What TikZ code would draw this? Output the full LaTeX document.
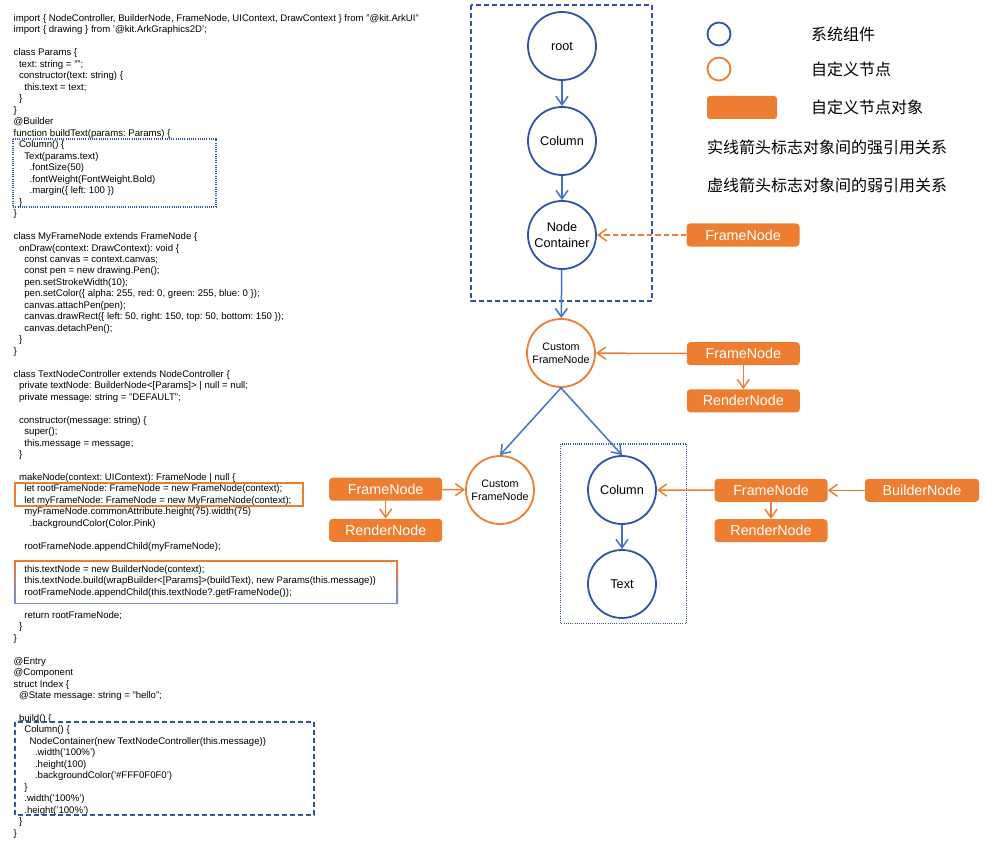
\documentclass[tikz,border=0pt]{standalone}
\usepackage{fontspec}
\setmainfont{Liberation Sans}
\newfontfamily\cjk{Noto Sans CJK SC}
\usetikzlibrary{arrows.meta}
\definecolor{nblue}{HTML}{2F55A2}
\definecolor{ablue}{HTML}{4472C4}
\definecolor{nor}{HTML}{ED7D31}
\definecolor{lblue}{HTML}{6A8FD6}
\tikzset{
  codetext/.style={anchor=base west, inner sep=0pt, font=\frenchspacing\fontsize{9.6}{11.5}\selectfont},
  sysnode/.style={circle, draw=nblue, line width=1.8pt, minimum size=68pt, inner sep=0pt, font=\fontsize{12.7}{15.4}\selectfont, align=center},
  cusnode/.style={circle, draw=nor, line width=1.8pt, minimum size=68pt, inner sep=0pt, font=\fontsize{10.8}{13.4}\selectfont, align=center},
  objbox/.style={rectangle, rounded corners=3.5pt, fill=nor, text=white, minimum width=113pt, minimum height=23pt, inner sep=0pt, font=\fontsize{14.3}{16}\selectfont},
  barrow/.style={draw=ablue, line width=1.5pt, -{Straight Barb[length=8.5pt,width=12pt]}},
  oarrow/.style={draw=nor, line width=1.5pt, -{Straight Barb[length=8.5pt,width=12pt]}},
  weakarrow/.style={oarrow, dash pattern=on 5.5pt off 3pt},
  legendtext/.style={anchor=west, inner sep=0pt, font=\cjk\fontsize{16}{18}\selectfont},
  dashbox/.style={draw=nblue, line width=1.6pt, dash pattern=on 5pt off 3pt},
  dotbox/.style={draw=nblue, line width=1.2pt, dash pattern=on 1pt off 1.2pt}
}
\newcommand\codeln[3]{\node[codetext] (c#1) at ({13.5+2.67*#2},{21.5+(#1-1)*11.475}) {#3};}
\begin{document}
\begin{tikzpicture}[x=1pt,y=-1pt]
\useasboundingbox (0,0) rectangle (1000,842);
\fill[white] (0,0) rectangle (1000,842);

% ---------------- code ----------------
\codeln{1}{0}{import \{ NodeController, BuilderNode, FrameNode, UIContext, DrawContext \} from "@kit.ArkUI"}
\codeln{2}{0}{import \{ drawing \} from '@kit.ArkGraphics2D';}
\codeln{4}{0}{class Params \{}
\codeln{5}{2}{text: string = "";}
\codeln{6}{2}{constructor(text: string) \{}
\codeln{7}{4}{this.text = text;}
\codeln{8}{2}{\}}
\codeln{9}{0}{\}}
\codeln{10}{0}{@Builder}
\codeln{11}{0}{function buildText(params: Params) \{}
\codeln{12}{2}{Column() \{}
\codeln{13}{4}{Text(params.text)}
\codeln{14}{6}{.fontSize(50)}
\codeln{15}{6}{.fontWeight(FontWeight.Bold)}
\codeln{16}{6}{.margin(\{ left: 100 \})}
\codeln{17}{2}{\}}
\codeln{18}{0}{\}}
\codeln{20}{0}{class MyFrameNode extends FrameNode \{}
\codeln{21}{2}{onDraw(context: DrawContext): void \{}
\codeln{22}{4}{const canvas = context.canvas;}
\codeln{23}{4}{const pen = new drawing.Pen();}
\codeln{24}{4}{pen.setStrokeWidth(10);}
\codeln{25}{4}{pen.setColor(\{ alpha: 255, red: 0, green: 255, blue: 0 \});}
\codeln{26}{4}{canvas.attachPen(pen);}
\codeln{27}{4}{canvas.drawRect(\{ left: 50, right: 150, top: 50, bottom: 150 \});}
\codeln{28}{4}{canvas.detachPen();}
\codeln{29}{2}{\}}
\codeln{30}{0}{\}}
\codeln{32}{0}{class TextNodeController extends NodeController \{}
\codeln{33}{2}{private textNode: BuilderNode<[Params]> | null = null;}
\codeln{34}{2}{private message: string = "DEFAULT";}
\codeln{36}{2}{constructor(message: string) \{}
\codeln{37}{4}{super();}
\codeln{38}{4}{this.message = message;}
\codeln{39}{2}{\}}
\codeln{41}{2}{makeNode(context: UIContext): FrameNode | null \{}
\codeln{42}{4}{let rootFrameNode: FrameNode = new FrameNode(context);}
\codeln{43}{4}{let myFrameNode: FrameNode = new MyFrameNode(context);}
\codeln{44}{4}{myFrameNode.commonAttribute.height(75).width(75)}
\codeln{45}{6}{.backgroundColor(Color.Pink)}
\codeln{47}{4}{rootFrameNode.appendChild(myFrameNode);}
\codeln{49}{4}{this.textNode = new BuilderNode(context);}
\codeln{50}{4}{this.textNode.build(wrapBuilder<[Params]>(buildText), new Params(this.message))}
\codeln{51}{4}{rootFrameNode.appendChild(this.textNode?.getFrameNode());}
\codeln{53}{4}{return rootFrameNode;}
\codeln{54}{2}{\}}
\codeln{55}{0}{\}}
\codeln{57}{0}{@Entry}
\codeln{58}{0}{@Component}
\codeln{59}{0}{struct Index \{}
\codeln{60}{2}{@State message: string = "hello";}
\codeln{62}{2}{build() \{}
\codeln{63}{4}{Column() \{}
\codeln{64}{6}{NodeContainer(new TextNodeController(this.message))}
\codeln{65}{8}{.width('100\%')}
\codeln{66}{8}{.height(100)}
\codeln{67}{8}{.backgroundColor('\#FFF0F0F0')}
\codeln{68}{4}{\}}
\codeln{69}{4}{.width('100\%')}
\codeln{70}{4}{.height('100\%')}
\codeln{71}{2}{\}}
\codeln{72}{0}{\}}

% code frames
\draw[dotbox] (13,139) rectangle (216,207);
\draw[draw=nor, line width=1.3pt] (15,483) rectangle (303,506);
\draw[nor, line width=1.3pt] (14.6,561) -- (397.3,561);
\draw[lblue, line width=1.3pt] (14.6,603.3) -- (397.3,603.3);
\shade[top color=nor, bottom color=lblue] (14,560.4) rectangle (15.3,603.9);
\shade[top color=nor, bottom color=lblue] (396.7,560.4) rectangle (398,603.9);
\draw[dashbox] (15,722) rectangle (314,815);

% ---------------- diagram ----------------
\draw[dashbox] (471,5) rectangle (652,301);
\draw[dotbox] (560.5,444) rectangle (686.7,623.5);

\node[sysnode] (root) at (562,46) {root};
\node[sysnode] (col1) at (562,141) {Column};
\node[sysnode] (nc) at (562,235) {Node\\Container};
\node[objbox] (fnw) at (743,235) {FrameNode};

\node[cusnode] (cfn1) at (561,353) {Custom\\FrameNode};
\node[objbox] (fn1) at (743.3,353.7) {FrameNode};
\node[objbox] (rn1) at (743.3,400.8) {RenderNode};

\node[cusnode] (cfn2) at (500,490) {Custom\\FrameNode};
\node[objbox] (fn2) at (385.7,489.2) {FrameNode};
\node[objbox] (rn2) at (385.7,530.3) {RenderNode};

\node[sysnode] (col2) at (622,490) {Column};
\node[sysnode] (txt) at (622,584) {Text};
\node[objbox] (fn3) at (771,490.3) {FrameNode};
\node[objbox] (rn3) at (771,530.7) {RenderNode};
\node[objbox, minimum width=114pt] (bn) at (922,490.3) {BuilderNode};

\draw[barrow] (root) -- (col1);
\draw[barrow] (col1) -- (nc);
\draw[barrow] (nc) -- (cfn1);
\draw[weakarrow] (fnw) -- (nc);
\draw[oarrow] (fn1) -- (cfn1);
\draw[oarrow] (fn1) -- (rn1);
\draw[barrow] (cfn1.south) -- (cfn2.north);
\draw[barrow] (cfn1.south) -- (col2.north);
\draw[oarrow] (fn2) -- (cfn2);
\draw[oarrow] (fn2) -- (rn2);
\draw[barrow] (col2) -- (txt);
\draw[oarrow] (fn3) -- (col2);
\draw[oarrow] (bn) -- (fn3);
\draw[oarrow] (fn3) -- (rn3);

% ---------------- legend ----------------
\node[circle, draw=nblue, line width=1.8pt, minimum size=23pt, inner sep=0pt] (lg1) at (719,34) {};
\node[circle, draw=nor, line width=1.8pt, minimum size=23pt, inner sep=0pt] (lg2) at (719,69) {};
\node[rectangle, rounded corners=3pt, fill=nor, minimum width=70pt, minimum height=23pt, inner sep=0pt] (lg3) at (742,107.5) {};
\node[legendtext] (lt1) at (811,34) {系统组件};
\node[legendtext] (lt2) at (811,69) {自定义节点};
\node[legendtext] (lt3) at (811,107) {自定义节点对象};
\node[legendtext] (lt4) at (707,147) {实线箭头标志对象间的强引用关系};
\node[legendtext] (lt5) at (707,185) {虚线箭头标志对象间的弱引用关系};
\end{tikzpicture}
\end{document}
